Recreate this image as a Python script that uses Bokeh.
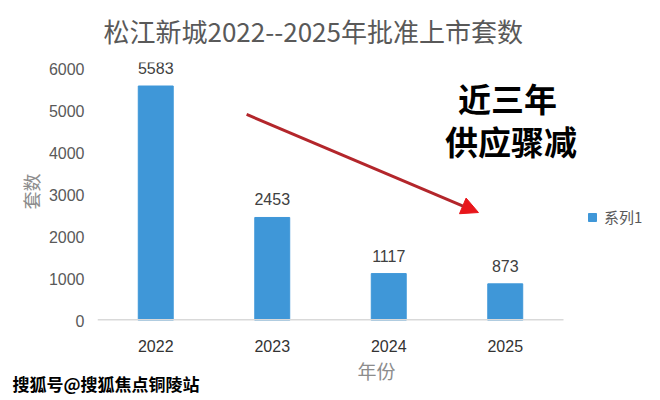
from bokeh.plotting import figure
from bokeh.models import (ColumnDataSource, LabelSet, Label, Arrow, NormalHead, Legend,
                          LegendItem, FixedTicker, Range1d)
from bokeh.core.properties import value
from bokeh.embed import file_html
from bokeh.resources import INLINE

# ---- data ----
years = ["2022", "2023", "2024", "2025"]
counts = [5583, 2453, 1117, 873]
y_ticks = [0, 1000, 2000, 3000, 4000, 5000, 6000]
title_text = "松江新城2022--2025年批准上市套数"
x_title = "年份"
y_title = "套数"
series_name = "系列1"
note_line1 = "近三年"
note_line2 = "供应骤减"
watermark = "搜狐号@搜狐焦点铜陵站"

# annotation anchors (category-slot x, value-space y)
arrow_start = (1.28, 4905)
arrow_end = (3.27, 2571)
note1_pos = (3.52, 5286)
note2_pos = (3.55, 4262)

BAR = "#3f97d8"
NUM = "Liberation Sans"
CJK = "Noto Sans CJK SC"

W, H = 660, 400
LEFT, RIGHT, TOP, BOTTOM = 97, 5, 62, 80
WM_PANEL = 22                          # height taken by the watermark label panel
slot_px = 116.5                        # width of one category slot
x_end = (W - LEFT - RIGHT) / slot_px   # extra room on the right for notes/legend
px_per_unit = 0.042
y_end = (H - TOP - BOTTOM) / px_per_unit

xpos = [i + 0.5 for i in range(len(years))]
src = ColumnDataSource(dict(x=xpos, year=years, count=counts,
                            label=[str(c) for c in counts]))

p = figure(x_range=Range1d(0, x_end), y_range=Range1d(0, y_end),
           width=W, height=H, output_backend="svg", toolbar_location=None,
           min_border_left=LEFT, min_border_right=RIGHT,
           min_border_top=TOP, min_border_bottom=BOTTOM)
p.outline_line_color = None
p.background_fill_color = "white"
p.border_fill_color = "white"
p.grid.visible = False
p.title.visible = False

r = p.vbar(x="x", top="count", width=0.30, source=src, fill_color=BAR, line_color=BAR)

# baseline under the bars (category slots only)
p.segment(x0=[0], x1=[len(years)], y0=[0], y1=[0], line_color="#d9d9d9", line_width=3)

labels = LabelSet(x="x", y="count", text="label", source=src, y_offset=12,
                  text_align="center", text_baseline="bottom", text_font_size="16px",
                  text_color="#404040", text_font=value(NUM))
p.add_layout(labels)

# axes
p.yaxis.ticker = FixedTicker(ticks=y_ticks)
p.yaxis.axis_line_color = None
p.yaxis.major_tick_line_color = None
p.yaxis.minor_tick_line_color = None
p.yaxis.major_label_text_font_size = "16px"
p.yaxis.major_label_text_color = "#595959"
p.yaxis.major_label_text_font = NUM
p.yaxis.major_label_standoff = 7
p.yaxis.axis_label = y_title
p.yaxis.axis_label_text_font = CJK
p.yaxis.axis_label_text_font_size = "18px"
p.yaxis.axis_label_text_font_style = "normal"
p.yaxis.axis_label_text_color = "#8c8c8c"
p.yaxis.axis_label_standoff = 2

p.xaxis.ticker = FixedTicker(ticks=xpos)
p.xaxis.major_label_overrides = {x: y for x, y in zip(xpos, years)}
p.xaxis.axis_line_color = None
p.xaxis.major_tick_line_color = None
p.xaxis.minor_tick_line_color = None
p.xaxis.major_label_text_font_size = "16px"
p.xaxis.major_label_text_color = "#333333"
p.xaxis.major_label_text_font = NUM
p.xaxis.major_label_standoff = 13
p.xaxis.axis_label = x_title
p.xaxis.axis_label_text_font = CJK
p.xaxis.axis_label_text_font_size = "19px"
p.xaxis.axis_label_text_font_style = "normal"
p.xaxis.axis_label_text_color = "#8c8c8c"
p.xaxis.axis_label_standoff = 2

# arrow
p.add_layout(Arrow(x_start=arrow_start[0], y_start=arrow_start[1],
                   x_end=arrow_end[0], y_end=arrow_end[1],
                   line_color="#b3262b", line_width=3,
                   end=NormalHead(size=17, fill_color="#e8161b", line_color="#e8161b")))

# notes
for txt, pos in [(note_line1, note1_pos), (note_line2, note2_pos)]:
    p.add_layout(Label(x=pos[0], y=pos[1], text=txt, text_align="center",
                       text_baseline="middle", text_font=CJK, text_font_size="33px",
                       text_font_style="bold", text_color="black"))

# legend
legend = Legend(items=[LegendItem(label=series_name, renderers=[r])],
                location=(490, 93), glyph_width=10, glyph_height=10,
                label_text_font_size="15px", label_text_color="#595959",
                label_text_font=CJK, border_line_alpha=0, background_fill_alpha=0,
                padding=0, margin=0, spacing=0, label_standoff=7)
p.add_layout(legend)

# watermark (bottom-left corner) and title, both kept in the top margin panel
p.add_layout(Label(x=-85, y=TOP - 383, x_units="screen", y_units="screen", text=watermark,
                   text_baseline="middle", text_font=CJK, text_font_size="17px",
                   text_font_style="bold", text_color="black"), "above")
p.add_layout(Label(x=6, y=TOP - WM_PANEL - 33, x_units="screen", y_units="screen",
                   text=title_text, text_baseline="middle", text_font=CJK,
                   text_font_size="26px", text_color="#595959"), "above")

open("out.html", "w").write(file_html(p, INLINE))
